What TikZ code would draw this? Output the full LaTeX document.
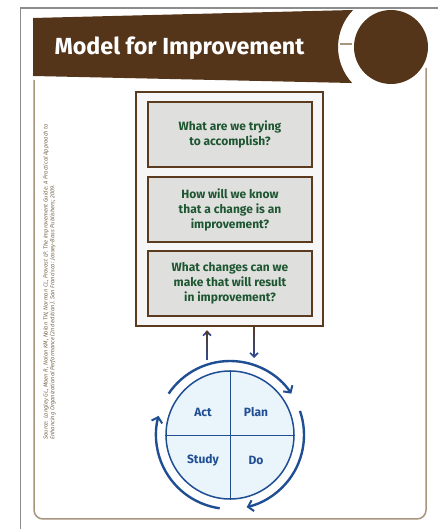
\documentclass[tikz,border=0pt]{standalone}
\usepackage{fontspec}
\setmainfont{Fira Sans}
\usetikzlibrary{arrows.meta,fadings}

\definecolor{banner}{HTML}{553519}
\definecolor{frametan}{HTML}{A8957E}
\definecolor{framegray}{HTML}{8C8C8C}
\definecolor{boxedge}{HTML}{5A3B1F}
\definecolor{boxfill}{HTML}{F6F6F6}
\definecolor{qfill}{HTML}{DFE0DE}
\definecolor{qgreen}{HTML}{1E5631}
\definecolor{pdsa}{HTML}{1F4E93}
\definecolor{pdsafill}{HTML}{EAF4FB}
\definecolor{linkbrown}{HTML}{5A3A22}
\definecolor{linkblue}{HTML}{2F4C96}
\definecolor{srcbrown}{HTML}{7A6650}

\begin{document}
\begin{tikzpicture}[x=1pt,y=1pt,
  question/.style={draw=boxedge, line width=1.5pt, fill=qfill,
    minimum width=164pt, minimum height=65pt, inner sep=0pt,
    align=center, text=qgreen, font=\bfseries\fontsize{12}{15}\selectfont},
  quadlabel/.style={text=pdsa, font=\bfseries\fontsize{12}{14}\selectfont},
  cyclearrow/.style={draw=pdsa, line width=2.4pt,
    -{Straight Barb[length=5pt,width=11pt,line width=2pt]}},
  linkarrow/.style={line width=1.8pt,
    -{Straight Barb[length=4pt,width=8pt,line width=1.6pt]}},
]
\useasboundingbox (0,0) rectangle (438,529);
\fill[white] (0,0) rectangle (438,529);

% page frame
\draw[framegray, line width=1.6pt] (20.5,0) -- (20.5,521) -- (438,521);

% tan panel
\draw[frametan, line width=1.5pt, rounded corners=9pt]
  (34,449) -- (34,10) -- (426,10) -- (426,461);

% title banner with the round cut-out on its right end
\fill[banner] (33,511) -- (353.1,519)
  arc[start angle=135.7, end angle=222.8, radius=53] -- (33,453) -- cycle;
\draw[frametan, line width=1.5pt] (340,485) -- (352,485);
\fill[banner] (391,482) circle[radius=37];
\node[anchor=west, text=white, font=\bfseries\fontsize{23.3}{26}\selectfont]
  (title) at (51,481) {Model for Improvement};

% the three questions
\node[draw=boxedge, line width=2pt, fill=boxfill, minimum width=187pt,
  minimum height=234pt, inner sep=0pt] (aims) at (229.5,320) {};
\node[question] (q1) at (230,394.5) {What are we trying\\to accomplish?};
\node[question] (q2) at (230,319.5) {How will we know\\that a change is an\\improvement?};
\node[question] (q3) at (230,245.5) {What changes can we\\make that will result\\in improvement?};

% PDSA wheel
\coordinate (hub) at (230,94);
\node[circle, draw=pdsa, fill=pdsafill, line width=1.5pt, minimum size=128pt,
  inner sep=0pt] (wheel) at (hub) {};
\draw[pdsa, line width=0.9pt] (wheel.north) -- (wheel.south);
\draw[pdsa, line width=0.9pt] (wheel.west) -- (wheel.east);
\node[quadlabel] (act) at (203,117) {Act};
\node[quadlabel] (plan) at (256,117) {Plan};
\node[quadlabel] (study) at (203,69) {Study};
\node[quadlabel] (do) at (256,69) {Do};

\draw[cyclearrow] ([shift={(146:74)}]hub) arc[start angle=146, end angle=34, radius=74];
\draw[cyclearrow] ([shift={(19:74)}]hub) arc[start angle=19, end angle=-77, radius=74];
\draw[cyclearrow] ([shift={(262:74)}]hub) arc[start angle=262, end angle=165, radius=74];

% links between the questions and the wheel
\coordinate (upfoot) at (207,168.5);
\coordinate (downtip) at (254,171);
\draw[linkarrow, linkblue] (upfoot) -- ([yshift=-3.5pt]aims.south -| upfoot);
\draw[linkarrow, linkbrown, path fading=south] (upfoot) -- ([yshift=-3.5pt]aims.south -| upfoot);
\draw[linkarrow, linkblue] (aims.south -| downtip) -- (downtip);
\draw[linkarrow, linkbrown, path fading=south] (aims.south -| downtip) -- (downtip);

% source note
\node[rotate=90, anchor=north west, align=left, inner sep=0pt, text=srcbrown,
  font=\itshape\fontsize{5.8}{6.6}\selectfont] (source) at (43,89)
  {Source: Langley GL, Moen R, Nolan KM, Nolan TW, Norman CL, Provost LP. The Improvement Guide: A Practical Approach to\\
   Enhancing Organizational Performance (2nd edition). San Francisco: Jossey-Bass Publishers; 2009.};
\end{tikzpicture}
\end{document}
